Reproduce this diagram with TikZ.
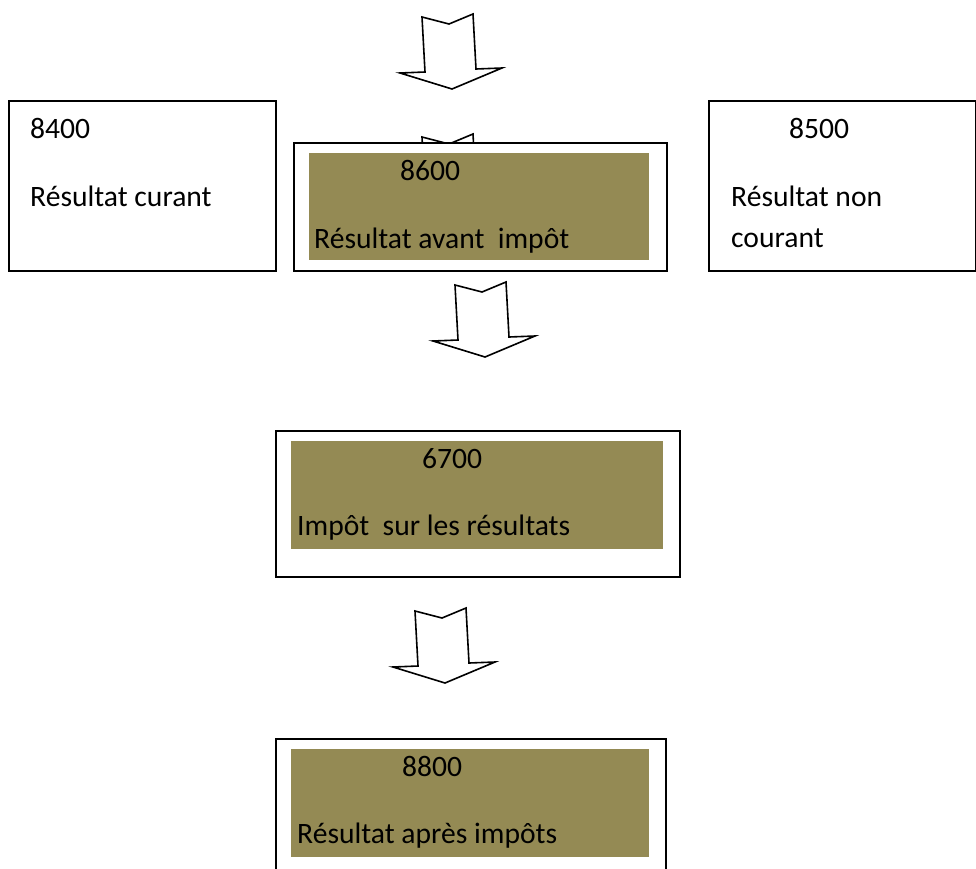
\documentclass[tikz,border=0pt]{standalone}
\usepackage{fontspec}
\setmainfont{Carlito}
\definecolor{olivefill}{RGB}{148,138,84}
\tikzset{
  x=1pt, y=-1pt,
  outerbox/.style={draw=black, line width=2pt, fill=white, inner sep=0pt, anchor=north west},
  innerbox/.style={fill=olivefill, draw=none, inner sep=0pt, anchor=north west},
  lbl/.style={anchor=base west, inner sep=0pt, font=\fontsize{29.6}{35}\selectfont},
  blockarrow/.pic={
    \draw[line width=1.6pt, fill=white, line join=miter]
      (0,0) -- (27,7) -- (51,-3) -- (54,52) -- (80,51) -- (30,72) -- (-22,56) -- (3,55) -- cycle;
  }
}
\begin{document}
\begin{tikzpicture}
\useasboundingbox (0,0) rectangle (976,868);
% arrows
\pic at (422,17) {blockarrow};
\pic at (422,137) {blockarrow};
% side boxes
\node[outerbox, minimum width=267pt, minimum height=170pt] (b8400) at (8,100) {};
\node[outerbox, minimum width=267pt, minimum height=170pt] (b8500) at (708,100) {};
\node[lbl] (t8400) at (30,138) {8400};
\node[lbl] (t8400b) at (30,206) {Résultat curant};
\node[lbl] (t8500) at (789,138) {8500};
\node[lbl] (t8500b) at (731,206) {Résultat non};
\node[lbl] (t8500c) at (731,247) {courant};
% center box 8600
\node[outerbox, minimum width=373pt, minimum height=128pt] (b8600) at (293,142) {};
\node[innerbox, minimum width=340pt, minimum height=107pt] (i8600) at (309,153) {};
\node[lbl] (t8600) at (400,180) {8600};
\node[lbl] (t8600b) at (314,248) {Résultat avant\ \ impôt};
% arrow 3
\pic at (455,285) {blockarrow};
% box 6700
\node[outerbox, minimum width=404pt, minimum height=146pt] (b6700) at (275,430) {};
\node[innerbox, minimum width=372pt, minimum height=108pt] (i6700) at (291,441) {};
\node[lbl] (t6700) at (422,468) {6700};
\node[lbl] (t6700b) at (297,535) {Impôt\ \ sur les résultats};
% arrow 4
\pic at (415,611) {blockarrow};
% box 8800
\node[outerbox, minimum width=390pt, minimum height=140pt] (b8800) at (275,738) {};
\node[innerbox, minimum width=358pt, minimum height=108pt] (i8800) at (291,749) {};
\node[lbl] (t8800) at (402,776) {8800};
\node[lbl] (t8800b) at (297,843) {Résultat après impôts};
\end{tikzpicture}
\end{document}
